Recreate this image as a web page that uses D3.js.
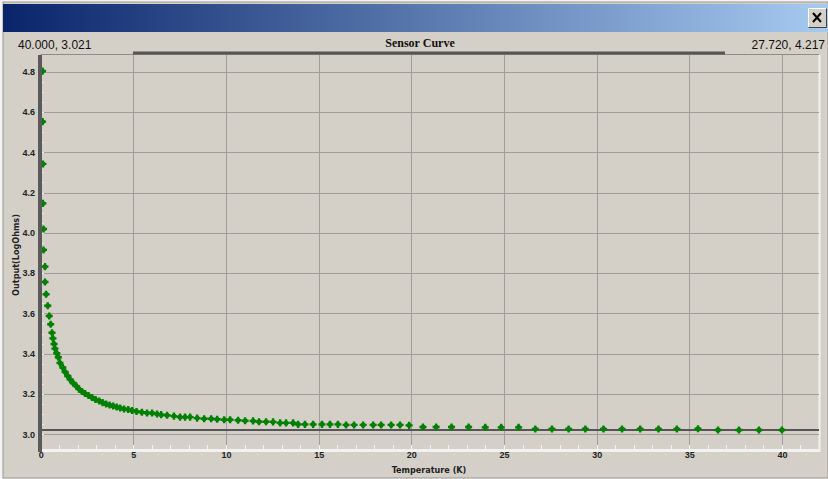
<!DOCTYPE html>
<html lang="en">
<head>
<meta charset="utf-8">
<style>
  body { margin: 0; background: #f4f4f4; }
  svg { display: block; font-family: 'DejaVu Sans Condensed', 'DejaVu Sans', sans-serif; }
  .tick-label { font-size: 9px; font-weight: bold; fill: #222; }
  .hdr { font-family: 'Liberation Sans', Arial, sans-serif; font-size: 12px; fill: #111; }
  .grid line { stroke: #a09e9a; stroke-width: 1; shape-rendering: crispEdges; }
</style>
</head>
<body>
<svg width="828" height="479"></svg>
<script src="https://cdnjs.cloudflare.com/ajax/libs/d3/7.8.5/d3.min.js"></script>
<script>
// data
const temps = [0.10, 0.10, 0.12, 0.12, 0.15, 0.15, 0.23, 0.23, 0.29, 0.38, 0.46, 0.54, 0.61, 0.66, 0.72, 0.77, 0.87, 0.95,
  1.04, 1.19, 1.32, 1.46, 1.59, 1.75, 1.92, 2.07, 2.23, 2.39, 2.58, 2.77, 2.96, 3.16, 3.34, 3.53, 3.72, 3.91, 4.10, 4.29,
  4.50, 4.72, 4.93, 5.17, 5.46, 5.74, 6.01, 6.28, 6.50, 6.82, 7.19, 7.52, 7.79, 8.06, 8.44, 8.82, 9.20, 9.52, 9.90,
  10.22, 10.65, 11.03, 11.46, 11.78, 12.16, 12.54, 12.92, 13.24, 13.62, 13.89, 14.26, 14.70, 15.18, 15.61, 16.04,
  16.48, 16.91, 17.40, 17.94, 18.37, 18.91, 19.39, 19.88, 20.63, 21.34, 22.17, 23.09, 23.99, 24.85, 25.79, 26.69,
  27.59, 28.49, 29.39, 30.37, 31.37, 32.35, 33.34, 34.33, 35.47, 36.55, 37.68, 38.76, 40.00]
const outputs = [4.803, 4.552, 4.342, 4.146, 4.019, 3.915, 3.832, 3.756, 3.695, 3.638, 3.587, 3.546, 3.504, 3.476, 3.448, 3.425, 3.402, 3.382,
  3.354, 3.331, 3.309, 3.289, 3.272, 3.254, 3.239, 3.224, 3.212, 3.202, 3.192, 3.182, 3.172, 3.165, 3.157, 3.150, 3.145, 3.140, 3.135, 3.130,
  3.125, 3.123, 3.118, 3.113, 3.109, 3.105, 3.105, 3.100, 3.097, 3.094, 3.090, 3.085, 3.085, 3.085, 3.080, 3.077, 3.077, 3.074, 3.072,
  3.072, 3.069, 3.067, 3.066, 3.062, 3.062, 3.061, 3.056, 3.056, 3.056, 3.049, 3.049, 3.049, 3.049, 3.049, 3.049,
  3.046, 3.046, 3.046, 3.046, 3.046, 3.046, 3.046, 3.044, 3.036, 3.036, 3.036, 3.036, 3.034, 3.034, 3.034, 3.026,
  3.026, 3.026, 3.026, 3.026, 3.026, 3.026, 3.026, 3.026, 3.027, 3.021, 3.021, 3.021, 3.021]
const xTicks = [0, 5, 10, 15, 20, 25, 30, 35, 40]
const yTicks = [3.0, 3.2, 3.4, 3.6, 3.8, 4.0, 4.2, 4.4, 4.6, 4.8]
const cursor = { x: 40.000, y: 3.021 }
const mousePos = "27.720, 4.217"
const chartTitle = "Sensor Curve"
const xTitle = "Temperature (K)"
const yTitle = "Output(LogOhms)"

const points = temps.map((t, i) => ({ t: t, v: outputs[i] }))

const svg = d3.select("svg")
const plotLeft = 40.7, plotRight = 819, plotTop = 55, plotBottom = 448

const x = d3.scaleLinear().domain([0, 42]).range([plotLeft, plotRight])
const y = d3.scaleLinear().domain([3, 4.8]).range([434.2, 71.7])

// window frame + title bar
const grad = svg.append("defs").append("linearGradient").attr("id", "tbar")
grad.append("stop").attr("offset", "0%").attr("stop-color", "#0a246a")
grad.append("stop").attr("offset", "100%").attr("stop-color", "#a6caf0")

svg.append("rect").attr("x", 3).attr("y", 2).attr("width", 825).attr("height", 476)
  .attr("fill", "#d4d0c8").attr("stroke", "#9a9893")
svg.append("rect").attr("x", 3).attr("y", 4).attr("width", 825).attr("height", 28)
  .attr("fill", "url(#tbar)")

// close button
const btn = svg.append("g").attr("transform", "translate(808,8)")
btn.append("rect").attr("width", 19).attr("height", 20).attr("fill", "#d4d0c8")
btn.append("path").attr("d", "M0.5,19.5 V0.5 H18.5").attr("stroke", "#fff").attr("fill", "none")
btn.append("path").attr("d", "M0.5,19.5 H18.5 V0.5").attr("stroke", "#404040").attr("fill", "none")
btn.append("path").attr("d", "M5,5 L13,14 M13,5 L5,14").attr("stroke", "#000").attr("stroke-width", 2)

// header texts
svg.append("text").attr("class", "hdr").attr("x", 18).attr("y", 49)
  .text(cursor.x.toFixed(3) + ", " + cursor.y.toFixed(3))
svg.append("text").attr("class", "hdr").attr("x", 825).attr("y", 49).attr("text-anchor", "end")
  .text(mousePos)
svg.append("text").attr("x", 420).attr("y", 47).attr("text-anchor", "middle")
  .style("font-family", "'Liberation Serif', serif").style("font-weight", "bold").style("font-size", "12px")
  .style("fill", "#111").text(chartTitle)

// plot frame
svg.append("line").attr("x1", plotLeft).attr("x2", plotRight).attr("y1", plotTop - 0.5).attr("y2", plotTop - 0.5)
  .attr("stroke", "#8e8c88")
svg.append("line").attr("x1", 133).attr("x2", 725).attr("y1", 53).attr("y2", 53)
  .attr("stroke", "#555").attr("stroke-width", 3)
svg.append("line").attr("x1", plotRight + 0.5).attr("x2", plotRight + 0.5).attr("y1", plotTop).attr("y2", plotBottom + 4)
  .attr("stroke", "#f2f2f2").attr("stroke-width", 2)

// gridlines
const grid = svg.append("g").attr("class", "grid")
grid.selectAll("line.v").data(xTicks.filter(d => d > 0)).join("line").attr("class", "v")
  .attr("x1", d => Math.round(x(d)) + 0.5).attr("x2", d => Math.round(x(d)) + 0.5)
  .attr("y1", plotTop).attr("y2", plotBottom)
grid.selectAll("line.h").data(yTicks).join("line").attr("class", "h")
  .attr("x1", plotLeft).attr("x2", plotRight)
  .attr("y1", d => Math.round(y(d)) + 0.5).attr("y2", d => Math.round(y(d)) + 0.5)

// bottom strip with minor ticks
svg.append("rect").attr("x", plotLeft).attr("y", plotBottom + 1).attr("width", plotRight - plotLeft + 1).attr("height", 3)
  .attr("fill", "#f2f2f2")
svg.append("g").selectAll("line").data(d3.range(1, 43)).join("line")
  .attr("x1", d => Math.round(x(d)) + 0.5).attr("x2", d => Math.round(x(d)) + 0.5)
  .attr("y1", plotBottom - 3).attr("y2", plotBottom + 1).attr("stroke", "#f2f2f2")

// left axis bar with minor ticks
svg.append("rect").attr("x", 38).attr("y", plotTop).attr("width", 4).attr("height", plotBottom - plotTop + 4)
  .attr("fill", "#5a5a5a")
svg.append("g").selectAll("line").data(d3.range(60, 97).map(d => d / 20)).join("line")
  .attr("x1", 42).attr("x2", 44)
  .attr("y1", d => Math.round(y(d)) + 0.5).attr("y2", d => Math.round(y(d)) + 0.5)
  .attr("stroke", "#ecebe8")

// cursor line
svg.append("line").attr("x1", plotLeft).attr("x2", plotRight)
  .attr("y1", y(cursor.y)).attr("y2", y(cursor.y)).attr("stroke", "#555").attr("stroke-width", 2)

// points
const sym = d3.symbol().type(d3.symbolCross).size(28)
const pts = svg.append("g").selectAll("g").data(points).join("g")
  .attr("transform", d => `translate(${x(d.t)},${y(d.v)})`)
pts.append("circle").attr("r", 2.5).attr("fill", "#008000")
pts.append("path").attr("d", sym).attr("fill", "#008000")

// axis bar covers the points sitting on T≈0
svg.append("rect").attr("x", 38).attr("y", plotTop).attr("width", 4).attr("height", plotBottom - plotTop + 4)
  .attr("fill", "#5a5a5a")

// axes labels
const yAxis = d3.axisLeft(y).tickValues(yTicks).tickSize(0).tickPadding(0).tickFormat(d3.format(".1f"))
svg.append("g").attr("transform", "translate(35,0)").call(yAxis)
  .call(g => g.select(".domain").remove())
  .selectAll("text").attr("class", "tick-label").attr("font-family", null).attr("font-size", null)

const xAxis = d3.axisBottom(x).tickValues(xTicks).tickSize(0).tickPadding(0)
svg.append("g").attr("transform", "translate(0,452)").call(xAxis)
  .call(g => g.select(".domain").remove())
  .selectAll("text").attr("class", "tick-label").attr("font-family", null).attr("font-size", null)

svg.append("text").attr("class", "tick-label").attr("x", 429).attr("y", 473).attr("text-anchor", "middle")
  .text(xTitle)
svg.append("text").attr("class", "tick-label").attr("text-anchor", "middle")
  .attr("transform", "translate(19,255) rotate(-90)").text(yTitle)
</script>
</body>
</html>
